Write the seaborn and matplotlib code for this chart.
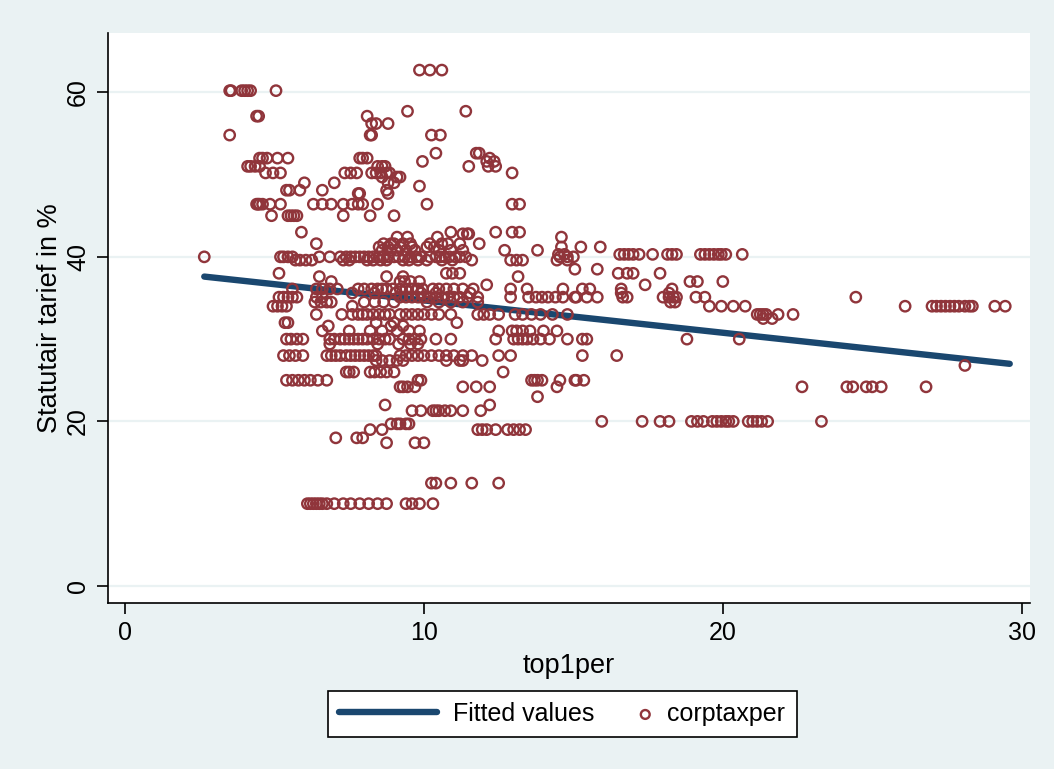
import numpy as np
import pandas as pd
import seaborn as sns
import matplotlib.pyplot as plt
from matplotlib.legend_handler import HandlerPathCollection

# Punten per tariefniveau (y) met de top1per-waarden (x)
upper_rows = {
    62.7: [9.85, 10.2, 10.6],
    60.2: [3.5, 3.55, 3.9, 4.0, 4.1, 4.2, 5.05],
    57.7: [9.45, 11.4],
    57.1: [4.4, 4.47, 8.1],
    56.2: [8.25, 8.4, 8.8],
    54.8: [3.5, 8.2, 8.25, 10.25, 10.55],
    52.6: [10.4, 11.75, 11.85],
    52.0: [4.5, 4.6, 4.75, 5.1, 5.45, 7.85, 7.95, 8.1, 12.2],
    51.6: [9.95, 12.1, 12.35],
    51.0: [4.1, 4.2, 4.35, 4.5, 8.45, 8.6, 8.7, 11.5, 12.15, 12.4],
    50.2: [4.7, 4.95, 5.2, 7.35, 7.55, 7.75, 8.25, 8.4, 8.55, 8.75, 8.85, 12.95],
    49.7: [8.6, 9.1, 9.2],
    49.0: [6.0, 7.0, 8.8, 9.0],
    48.6: [9.85],
    48.1: [5.4, 5.5, 5.85, 6.6, 8.75],
    47.7: [7.8, 7.85, 8.8],
    46.4: [4.4, 4.45, 4.5, 4.6, 4.85, 5.2, 6.3, 6.6, 6.9, 7.3, 7.6, 7.8, 7.95,
           8.45, 10.1, 12.95, 13.2],
    45.0: [4.9, 5.45, 5.55, 5.65, 5.75, 7.3, 8.2, 9.0],
    43.0: [5.9, 10.9, 12.4, 12.95, 13.2],
    42.8: [11.3, 11.45, 11.5],
    42.4: [9.1, 9.45, 10.45, 14.6],
}

middle_rows = {
    41.6: [6.4, 8.65, 8.9, 9.0, 9.3, 9.55, 10.2, 10.6, 10.8, 11.2, 11.85],
    41.2: [8.5, 8.8, 9.2, 9.6, 10.1, 10.35, 14.6, 15.25, 15.9],
    40.8: [8.6, 8.9, 9.1, 9.4, 9.7, 10.5, 10.9, 11.3, 12.7, 13.8],
    40.3: [14.5, 14.7, 16.55, 16.7, 16.85, 17.0, 17.2, 17.65, 18.15, 18.3, 18.45,
           19.25, 19.4, 19.55, 19.7, 19.85, 19.95, 20.1, 20.65],
    40.0: [2.65, 5.2, 5.3, 5.45, 5.6, 6.5, 6.85, 7.2, 7.4, 7.55, 7.7, 7.85, 8.0,
           8.15, 8.3, 8.5, 8.65, 8.8, 9.0, 9.15, 9.35, 9.55, 9.75, 9.9, 10.2,
           10.4, 10.55, 10.7, 10.85, 11.05, 11.2, 11.4, 14.55, 14.8, 15.0],
    39.6: [5.7, 5.85, 6.05, 6.25, 7.3, 7.5, 8.1, 8.3, 8.55, 8.75, 9.3, 9.5, 9.8,
           10.1, 10.6, 10.95, 11.6, 12.9, 13.1, 13.3, 14.45, 14.8],
    38.5: [15.05, 15.8],
    38.0: [5.15, 10.75, 10.95, 11.2, 16.5, 16.8, 17.0, 17.9],
    37.6: [6.5, 8.75, 9.3, 13.15],
    37.0: [6.9, 9.2, 9.35, 9.55, 9.85, 18.9, 19.15, 20.0],
    36.6: [12.1, 17.4],
    36.1: [5.6, 6.4, 6.6, 6.85, 7.1, 7.8, 8.0, 8.25, 8.45, 8.6, 8.75, 8.95, 9.2,
           9.4, 9.6, 9.8, 9.95, 10.3, 10.5, 10.75, 11.0, 11.3, 11.65, 12.9, 13.45,
           14.65, 15.3, 15.55, 16.6, 18.3],
    35.6: [7.6, 8.35, 9.05, 9.9, 10.4, 11.55, 16.6, 18.2],
}

core_rows = {
    35.1: [5.15, 5.3, 5.45, 5.6, 5.75, 6.4, 6.6, 9.2, 9.4, 9.6, 9.8, 10.0, 10.2,
           10.4, 10.6, 10.8, 11.0, 11.2, 11.45, 11.8, 12.9, 13.5, 13.75, 13.95,
           14.15, 14.4, 14.65, 15.05, 15.1, 15.45, 15.8, 16.65, 16.8, 18.0, 18.2,
           18.35, 18.45, 19.1, 19.4, 24.45],
    34.5: [6.35, 6.55, 6.75, 6.9, 8.0, 8.35, 8.65, 9.0, 10.1, 10.5, 10.9, 11.3,
           11.8, 18.25, 18.4],
    34.0: [4.95, 5.1, 5.25, 5.4, 7.6, 19.55, 19.95, 20.35, 20.75, 26.1, 27.0,
           27.15, 27.3, 27.45, 27.6, 27.75, 27.9, 28.1, 28.25, 28.35, 29.1, 29.45],
    33.0: [6.4, 7.25, 7.6, 7.8, 7.95, 8.1, 8.3, 8.5, 8.7, 8.85, 9.2, 9.4, 9.6,
           9.8, 10.0, 10.25, 10.5, 10.9, 11.8, 12.0, 12.2, 12.5, 13.05, 13.3,
           13.6, 13.9, 14.3, 14.8, 21.15, 21.25, 21.35, 21.45, 21.85, 22.35],
    32.5: [21.35, 21.65],
    32.0: [5.35, 5.45, 8.4, 9.0, 11.1],
    31.6: [6.8, 8.9, 9.3],
    31.0: [6.6, 7.5, 8.2, 8.6, 9.1, 9.5, 9.85, 12.5, 12.95, 13.1, 13.3, 13.55,
           14.0, 14.45],
    30.0: [5.4, 5.55, 5.75, 5.95, 6.85, 7.0, 7.2, 7.35, 7.5, 7.65, 7.8, 7.95,
           8.1, 8.3, 8.5, 8.7, 8.85, 9.3, 9.5, 9.7, 9.9, 10.4, 10.9, 12.4, 13.0,
           13.15, 13.3, 13.45, 13.65, 13.9, 14.2, 14.8, 15.3, 15.45, 18.8, 20.55],
    29.4: [6.85, 8.45, 9.15, 9.55, 9.8],
    28.0: [5.3, 5.5, 5.7, 5.95, 6.75, 6.9, 7.05, 7.2, 7.4, 7.55, 7.7, 7.85, 8.0,
           8.15, 8.3, 8.4, 9.2, 9.4, 9.6, 9.8, 10.0, 10.25, 10.5, 10.75, 11.0,
           11.3, 11.6, 12.5, 12.9, 15.3, 16.45],
    27.4: [8.4, 8.6, 8.85, 9.1, 9.3, 10.75, 11.2, 11.3, 11.95],
    26.8: [28.1],
    26.0: [7.4, 7.5, 7.65, 8.2, 8.35, 8.55, 8.75, 9.0, 12.65],
    25.0: [5.4, 5.6, 5.8, 6.0, 6.2, 6.45, 6.75, 9.8, 9.9, 13.6, 13.7, 13.8,
           13.95, 14.55, 15.05, 15.1, 15.35],
    24.2: [9.2, 9.3, 9.45, 9.7, 11.3, 11.75, 12.2, 14.45, 22.65, 24.15, 24.35,
           24.8, 25.0, 25.3, 26.8],
}

lower_rows = {
    23.0: [13.8],
    22.0: [8.7, 12.2],
    21.3: [9.6, 9.9, 10.3, 10.4, 10.5, 10.7, 10.9, 11.3, 11.9],
    20.0: [15.95, 17.3, 17.9, 18.2, 18.95, 19.15, 19.35, 19.65, 19.8, 19.95,
           20.1, 20.2, 20.35, 20.85, 21.0, 21.15, 21.3, 21.5, 23.3],
    19.7: [8.9, 9.1, 9.2, 9.4, 9.5],
    19.0: [8.2, 8.6, 11.8, 11.95, 12.1, 12.4, 12.8, 13.0, 13.2, 13.4],
    18.0: [7.05, 7.75, 7.95],
    17.4: [8.75, 9.7, 10.0],
    12.5: [10.25, 10.4, 10.9, 11.6, 12.5],
    10.0: [6.1, 6.2, 6.3, 6.4, 6.5, 6.6, 6.75, 7.0, 7.3, 7.55, 7.85, 8.15, 8.45,
           8.75, 9.4, 9.6, 9.85, 10.3],
}

# Gefitte lijn (begin- en eindpunt)
fit_x = [2.65, 29.6]
fit_y = [37.6, 27.0]

x_ticks = [0, 10, 20, 30]
y_ticks = [0, 20, 40, 60]

rows = []
for group in [upper_rows, middle_rows, core_rows, lower_rows]:
    for y, xs in group.items():
        for x in xs:
            rows.append((x, y))
data = pd.DataFrame(rows, columns=["top1per", "corptaxper"])

bg = "#EAF2F3"
maroon = "#90353B"
navy = "#1A476F"


# marker in de legenda rechts in het handle-vak, zoals bij Stata
class RightMarker(HandlerPathCollection):
    def get_xdata(self, legend, xdescent, ydescent, width, height, fontsize):
        x = -xdescent + width - 0.25 * fontsize
        return [x], [x]


sns.set_style("white")
plt.rcParams["font.family"] = ["Liberation Sans", "DejaVu Sans"]
plt.rcParams["text.color"] = "black"
plt.rcParams["axes.labelcolor"] = "black"
plt.rcParams["xtick.color"] = "black"
plt.rcParams["ytick.color"] = "black"

fig = plt.figure(figsize=(10.54, 7.69), dpi=100, facecolor=bg)
ax = fig.add_axes([0.1025, 0.2159, 0.8745, 0.7411])
ax.set_facecolor("white")

for t in y_ticks:
    ax.axhline(t, color=bg, linewidth=1.6, zorder=0)

sns.lineplot(x=fit_x, y=fit_y, ax=ax, color=navy, linewidth=4.6,
             label="Fitted values", zorder=2)
sns.scatterplot(data=data, x="top1per", y="corptaxper", ax=ax, marker="o",
                s=56, color=maroon, facecolor="none", edgecolor=maroon,
                linewidth=1.7, label="corptaxper", zorder=3)

ax.set_xlim(-0.57, 30.27)
ax.set_ylim(-2.07, 67.2)
ax.set_xticks(x_ticks)
ax.set_yticks(y_ticks)
ax.tick_params(axis="both", bottom=True, left=True, direction="out", length=8,
               width=1.2, color="black", labelcolor="black", labelsize=18, pad=5)
ax.tick_params(axis="y", labelrotation=90)
for lab in ax.get_yticklabels():
    lab.set_va("center")

for side in ["top", "right"]:
    ax.spines[side].set_visible(False)
for side in ["left", "bottom"]:
    ax.spines[side].set_color("black")
    ax.spines[side].set_linewidth(1.2)

ax.set_xlabel("top1per", fontsize=19.5, labelpad=6)
ax.set_ylabel("Statutair tarief in %", fontsize=19.5, labelpad=2)

handles, labels = ax.get_legend_handles_labels()
ax.get_legend().remove()
leg = fig.legend(handles, labels, loc="center", bbox_to_anchor=(0.5335, 0.0715),
                 ncol=2, fontsize=18, frameon=True, fancybox=False,
                 edgecolor="black", facecolor="white", framealpha=1,
                 handlelength=3.9, handletextpad=0.64, columnspacing=-1.6,
                 borderpad=0.45, borderaxespad=0, markerscale=0.85,
                 handler_map={type(handles[1]): RightMarker()})
leg.get_frame().set_linewidth(1.2)

fig.savefig("out.png", dpi=100, facecolor=bg)
